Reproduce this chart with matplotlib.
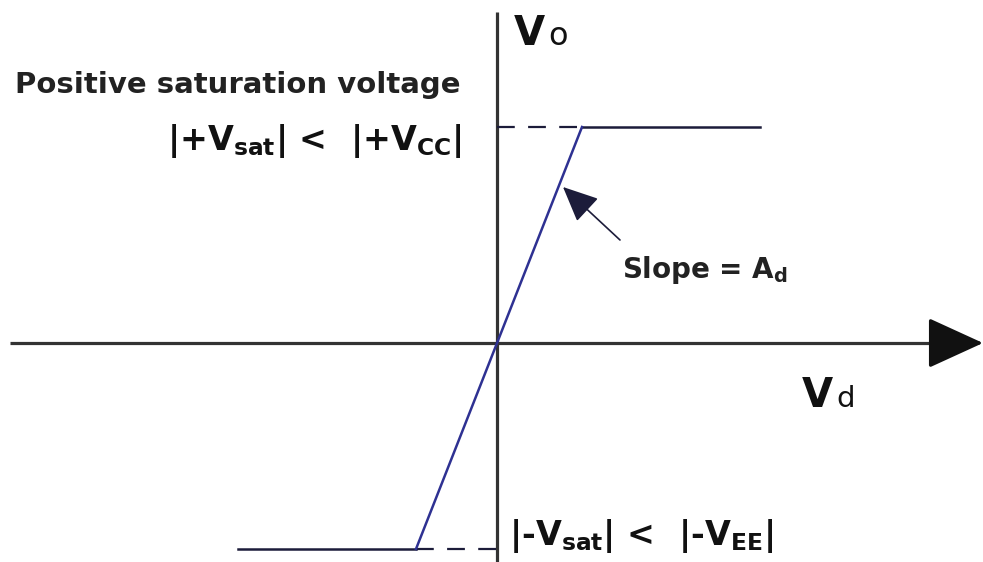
import matplotlib
matplotlib.use('Agg')
import matplotlib.pyplot as plt

# transfer characteristic of an op-amp (1 unit ~ 20 px)
vd = [-12.95, -4.05, 4.25, 13.15]
vo = [-10.3, -10.3, 10.8, 10.8]
vsat_pos = 10.8
vsat_neg = -10.3
knee_pos = 4.25
knee_neg = -4.05

plt.rcParams['mathtext.fontset'] = 'custom'
plt.rcParams['mathtext.rm'] = 'DejaVu Sans:bold'
plt.rcParams['mathtext.bf'] = 'DejaVu Sans:bold'
plt.rcParams['mathtext.it'] = 'DejaVu Sans:bold'

fig = plt.figure(figsize=(9.83, 5.62), dpi=100)
ax = fig.add_axes([0, 0, 1, 1])
ax.set_xlim(-24.85, 24.3)
ax.set_ylim(-10.95, 17.15)
ax.axis('off')

axis_col = '#333333'
blue = '#2e3192'
dark = '#1c1c3a'

# axes
ax.plot([0, 0], [-10.95, 16.55], color=axis_col, lw=2.3, solid_capstyle='butt')
ax.plot([-24.35, 22.5], [0, 0], color=axis_col, lw=2.3, solid_capstyle='butt')
ax.annotate('', xy=(24.3, 0), xytext=(21.8, 0),
            arrowprops=dict(arrowstyle='-|>,head_length=1.75,head_width=0.8',
                            mutation_scale=20, lw=2.3, color='#111111',
                            shrinkA=0, shrinkB=0))

# saturation levels
ax.plot([vd[2], vd[3]], [vo[2], vo[3]], color=dark, lw=1.8)
ax.plot([vd[0], vd[1]], [vo[0], vo[1]], color=dark, lw=1.8)
ax.plot([0, knee_pos], [vsat_pos, vsat_pos], color=dark, lw=1.6, ls=(0, (8, 6)))
ax.plot([knee_neg, 0], [vsat_neg, vsat_neg], color=dark, lw=1.6, ls=(0, (8, 6)))

# linear region
ax.plot([vd[1], vd[2]], [vo[1], vo[2]], color=blue, lw=1.8)

# slope marker
ax.annotate('', xy=(3.3, 7.8), xytext=(6.15, 5.15),
            arrowprops=dict(arrowstyle='-|>,head_length=1.1,head_width=0.5',
                            mutation_scale=20, lw=1.2, color=dark,
                            shrinkA=0, shrinkB=0))

ax.text(-24.1, 12.5, 'Positive saturation voltage', fontsize=21,
        fontweight='bold', color='#222222', va='baseline', ha='left')
ax.text(-16.5, 9.65, r'|+V$_{\mathrm{sat}}$| <  |+V$_{\mathrm{CC}}$|', fontsize=24,
        fontweight='bold', color='#111111', va='baseline', ha='left')
ax.text(6.25, 3.25, r'Slope = A$_{\mathrm{d}}$', fontsize=20,
        fontweight='bold', color='#222222', va='baseline', ha='left')
ax.text(0.6, -10.1, r'|-V$_{\mathrm{sat}}$| <  |-V$_{\mathrm{EE}}$|', fontsize=24,
        fontweight='bold', color='#111111', va='baseline', ha='left')

# axis names
ax.text(15.25, -3.2, 'V', fontsize=29, fontweight='bold', color='#111111',
        va='baseline', ha='left')
ax.text(16.95, -3.2, 'd', fontsize=21, color='#111111', va='baseline', ha='left')
ax.text(0.85, 14.9, 'V', fontsize=29, fontweight='bold', color='#111111',
        va='baseline', ha='left')
ax.text(2.55, 14.9, 'o', fontsize=23, color='#111111', va='baseline', ha='left')

fig.savefig('out.png', dpi=100)
